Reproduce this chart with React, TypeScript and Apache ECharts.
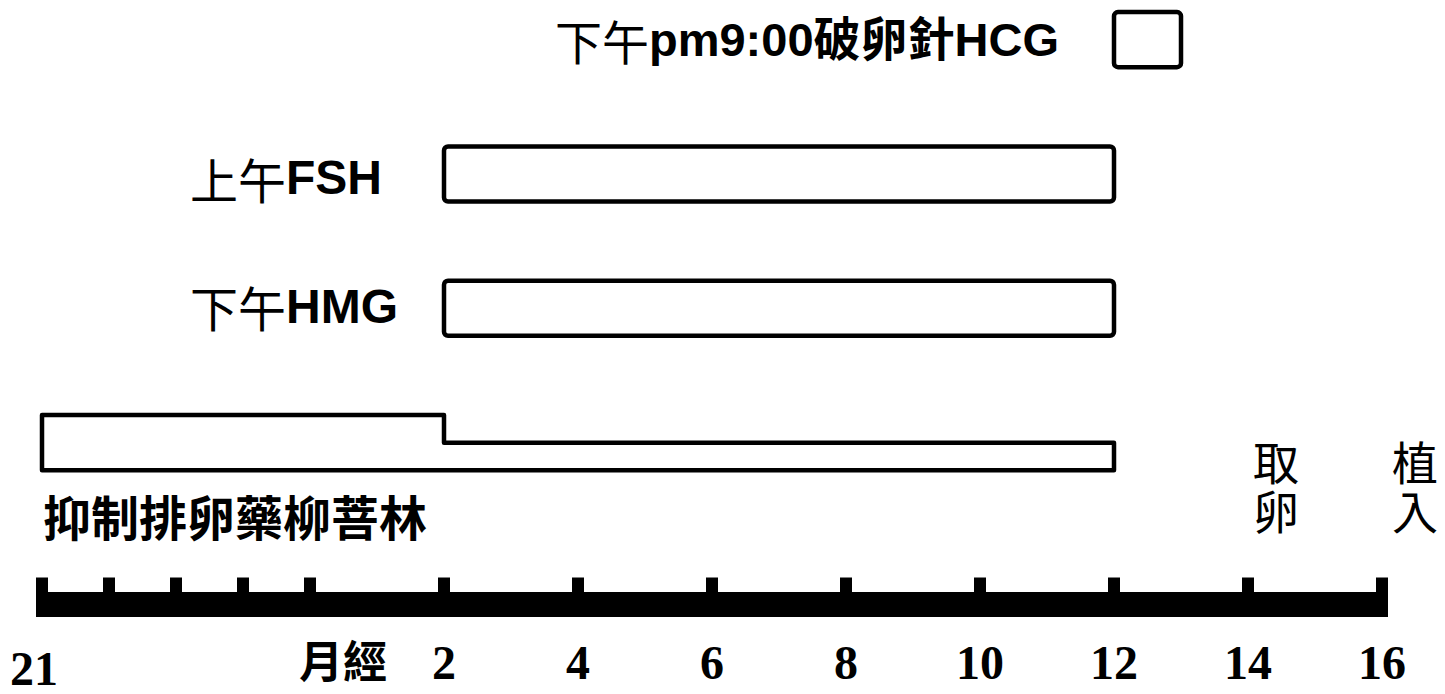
import React, { useEffect, useRef } from "react";
import * as echarts from "echarts";

// ---- data ----
const dayLabels = ["21", "22", "23", "24", "25", "1", "2", "3", "4", "5", "6", "7", "8", "9", "10", "11", "12", "13", "14", "15", "16"];
const menstruationDay = "1";
const menstruationLabel = "月經";
const tickDays = ["21", "22", "23", "24", "25", "2", "4", "6", "8", "10", "12", "14", "16"];
const labelDays = ["21", "1", "2", "4", "6", "8", "10", "12", "14", "16"];

const injectionTime = ["下午", "上午", "下午"];
const injectionDrug = ["pm9:00破卵針HCG", "FSH", "HMG"];
const injectionStart = ["12", "2", "2"];
const injectionEnd = ["13", "12", "12"];
const injectionRow = [4, 3, 2];

const suppressName = "抑制排卵藥柳菩林";
const suppressStart = "21";
const suppressDoseChange = "2";
const suppressEnd = "12";
const suppressRow = 1;
const suppressDoses = [1, 0.5];

const eventNames = ["取卵", "植入"];
const eventDays = ["14", "16"];

// ---- layout / style (not data) ----
const BOX_H = 0.41;
const STROKE = 4.5;
const injectionLabelDx = [-559, -254, -254];
const injectionLabelDy = [0, 4, -2];
const injectionFontSize = [47, 48, 48];
const eventLabelDx = [5, 10];
const CJK = "Noto Sans CJK TC";
const LATIN = "Liberation Sans";

const idx = (d: string) => dayLabels.indexOf(d);

export default function App() {
  const ref = useRef<HTMLDivElement>(null);

  useEffect(() => {
    document.body.style.margin = "0";
    if (!ref.current) return;
    const chart = echarts.init(ref.current, null, { renderer: "svg" });

    const rowRich = (fs: number) => ({
      t: { fontFamily: CJK, fontSize: fs, fontWeight: "normal", fill: "#000", color: "#000" },
      d: { fontFamily: `${LATIN}, ${CJK}`, fontSize: fs, fontWeight: "bold", fill: "#000", color: "#000" },
    });

    const option: any = {
      animation: false,
      backgroundColor: "#fff",
      grid: { left: 42, right: 63, top: 0, bottom: 89.5, containLabel: false, outerBoundsMode: "none" },
      xAxis: {
        type: "category",
        data: dayLabels,
        boundaryGap: false,
        axisLine: { show: false },
        axisTick: {
          show: true,
          inside: true,
          length: 27,
          interval: (i: number) => tickDays.indexOf(dayLabels[i]) >= 0,
          lineStyle: { color: "#000", width: 12 },
        },
        axisLabel: {
          show: true,
          interval: (i: number) => labelDays.indexOf(dayLabels[i]) >= 0,
          margin: 39,
          formatter: (value: string, index: number) => {
            if (value === menstruationDay) return `{m|${menstruationLabel}}`;
            if (index === 0) return `{a|${value}}`;
            return `{n|${value}}`;
          },
          rich: {
            n: { fontFamily: "Liberation Serif", fontSize: 48, lineHeight: 38, fontWeight: "bold", color: "#000" },
            a: { fontFamily: "Liberation Serif", fontSize: 48, lineHeight: 38, fontWeight: "bold", color: "#000", padding: [11, 16, 0, 0] },
            m: { fontFamily: CJK, fontSize: 44, lineHeight: 30, fontWeight: "bold", color: "#000", padding: [0, 68, 0, 0] },
          },
        },
        splitLine: { show: false },
      },
      yAxis: { type: "value", min: 0, max: 4.5, show: false, splitLine: { show: false } },
      series: [
        {
          name: "axisBar",
          type: "custom",
          silent: true,
          data: [[0, dayLabels.length - 1]],
          renderItem: (params: any, api: any) => {
            const a = api.coord([api.value(0), 0]);
            const b = api.coord([api.value(1), 0]);
            return {
              type: "rect",
              shape: { x: a[0] - 6, y: a[1] - 12.5, width: b[0] - a[0] + 12, height: 25 },
              style: { fill: "#000" },
            };
          },
        },
        {
          name: "injections",
          type: "custom",
          silent: true,
          data: injectionStart.map((s, i) => [idx(s), idx(injectionEnd[i]), injectionRow[i]]),
          renderItem: (params: any, api: any) => {
            const i = params.dataIndex;
            const s = api.coord([api.value(0), api.value(2)]);
            const e = api.coord([api.value(1), api.value(2) + BOX_H]);
            const cy = (s[1] + e[1]) / 2;
            return {
              type: "group",
              children: [
                {
                  type: "rect",
                  shape: { x: s[0], y: e[1], width: e[0] - s[0], height: s[1] - e[1], r: 4 },
                  style: { fill: "#fff", stroke: "#000", lineWidth: STROKE },
                },
                {
                  type: "text",
                  x: s[0] + injectionLabelDx[i],
                  y: cy + injectionLabelDy[i],
                  style: {
                    text: `{t|${injectionTime[i]}}{d|${injectionDrug[i]}}`,
                    rich: rowRich(injectionFontSize[i]),
                    align: "left",
                    verticalAlign: "middle",
                  },
                },
              ],
            };
          },
        },
        {
          name: "suppression",
          type: "custom",
          silent: true,
          data: [[idx(suppressStart), idx(suppressDoseChange), idx(suppressEnd), suppressRow]],
          renderItem: (params: any, api: any) => {
            const row = api.value(3);
            const p0 = api.coord([api.value(0), row]);
            const pc = api.coord([api.value(1), row + BOX_H * suppressDoses[0]]);
            const p1 = api.coord([api.value(2), row + BOX_H * suppressDoses[1]]);
            const points = [
              [p0[0], p0[1]],
              [p0[0], pc[1]],
              [pc[0], pc[1]],
              [pc[0], p1[1]],
              [p1[0], p1[1]],
              [p1[0], p0[1]],
            ];
            return {
              type: "group",
              children: [
                {
                  type: "polygon",
                  shape: { points },
                  style: { fill: "#fff", stroke: "#000", lineWidth: STROKE, lineJoin: "round" },
                },
                {
                  type: "text",
                  x: p0[0] + 1,
                  y: p0[1] + 45,
                  style: {
                    text: suppressName,
                    fontFamily: CJK,
                    fontSize: 48,
                    fontWeight: "bold",
                    fill: "#000",
                    align: "left",
                    verticalAlign: "middle",
                  },
                },
              ],
            };
          },
        },
        {
          name: "events",
          type: "custom",
          silent: true,
          data: eventDays.map((d) => [idx(d)]),
          renderItem: (params: any, api: any) => {
            const i = params.dataIndex;
            const p = api.coord([api.value(0), 0]);
            const chars = eventNames[i].split("");
            return {
              type: "group",
              children: chars.map((ch, k) => ({
                type: "text",
                x: p[0] + eventLabelDx[i],
                y: p[1] - 145 + k * 49,
                style: {
                  text: ch,
                  fontFamily: CJK,
                  fontSize: 46,
                  lineHeight: 46,
                  fontWeight: "normal",
                  fill: "#000",
                  align: "left",
                  verticalAlign: "middle",
                },
              })),
            };
          },
        },
      ],
    };

    chart.setOption(option);
    return () => chart.dispose();
  }, []);

  return <div ref={ref} style={{ width: "1445px", height: "694px" }} />;
}
